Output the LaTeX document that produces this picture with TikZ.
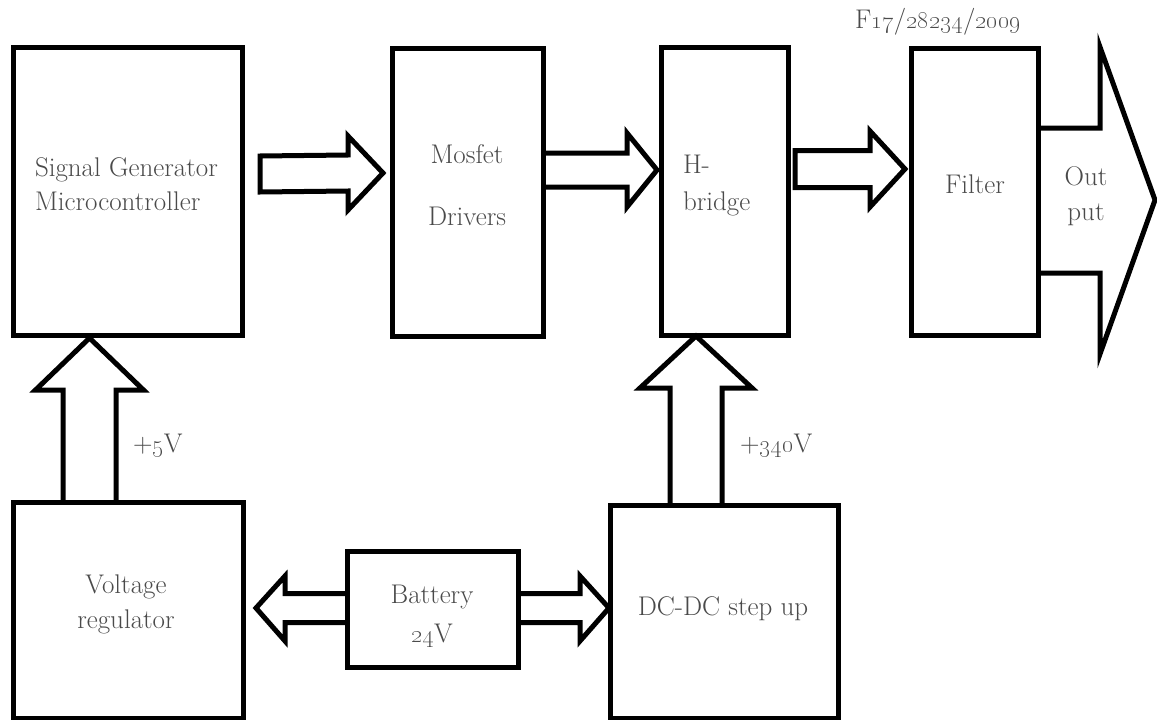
\documentclass[tikz,border=0pt]{standalone}
\usetikzlibrary{calc}
\definecolor{txtgray}{HTML}{4A4A4A}
\begin{document}
\begin{tikzpicture}[x=1pt,y=-1pt,
  box/.style={draw, line width=5pt, inner sep=0pt, outer sep=0pt, line join=miter},
  blk/.style={draw, line width=5pt, fill=white, line join=miter, miter limit=10},
  lbl/.style={text=txtgray, font=\fontsize{27}{32}\selectfont, inner sep=0pt, outer sep=0pt},
  lc/.style={lbl, anchor=base},
  ll/.style={lbl, anchor=base west}]
\useasboundingbox (0,0) rectangle (1157,720);

% ---- arrow end points ----
\coordinate (a1t) at (260,174);  \coordinate (a1p) at (383,173);
\coordinate (a2t) at (543,170);  \coordinate (a2p) at (657,170);
\coordinate (a3t) at (795,169);  \coordinate (a3p) at (905,169);
\coordinate (aot) at (1038,200); \coordinate (aop) at (1155,200);
\coordinate (u1t) at (89.5,502); \coordinate (u1p) at (89.5,338);
\coordinate (u2t) at (696,505);  \coordinate (u2p) at (696,336);
\coordinate (blt) at (347,608);  \coordinate (blp) at (256,608);
\coordinate (brt) at (518,608);  \coordinate (brp) at (609,608);

% ---- block arrows ----
% SG -> Mosfet (closed)
\draw[blk] ($(a1t)+(0,-18)$) -- ($(a1p)+(-35,-18)$) -- ($(a1p)+(-35,-37)$) -- (a1p)
  -- ($(a1p)+(-35,37)$) -- ($(a1p)+(-35,18)$) -- ($(a1t)+(0,18)$) -- cycle;
% Mosfet -> H-bridge (open at box)
\draw[blk] ($(a2t)+(0,-17)$) -- ($(a2p)+(-30,-17)$) -- ($(a2p)+(-30,-37)$) -- (a2p)
  -- ($(a2p)+(-30,37)$) -- ($(a2p)+(-30,17)$) -- ($(a2t)+(0,17)$);
% H-bridge -> Filter (closed)
\draw[blk] ($(a3t)+(0,-18.5)$) -- ($(a3p)+(-35,-18.5)$) -- ($(a3p)+(-35,-38)$) -- (a3p)
  -- ($(a3p)+(-35,38)$) -- ($(a3p)+(-35,18.5)$) -- ($(a3t)+(0,18.5)$) -- cycle;
% Output
\draw[blk] ($(aot)+(0,-72)$) -- ($(aop)+(-55,-72)$) -- ($(aop)+(-55,-153)$) -- (aop)
  -- ($(aop)+(-55,154)$) -- ($(aop)+(-55,73)$) -- ($(aot)+(0,73)$);
% VR -> SG (+5V)
\draw[blk] ($(u1t)+(-26.5,0)$) -- ($(u1p)+(-26.5,52)$) -- ($(u1p)+(-54,52)$) -- (u1p)
  -- ($(u1p)+(54,52)$) -- ($(u1p)+(26.5,52)$) -- ($(u1t)+(26.5,0)$);
% DC-DC -> H-bridge (+340V)
\draw[blk] ($(u2t)+(-26,0)$) -- ($(u2p)+(-26,52)$) -- ($(u2p)+(-56,52)$) -- (u2p)
  -- ($(u2p)+(56,52)$) -- ($(u2p)+(26,52)$) -- ($(u2t)+(26,0)$);
% Battery -> VR
\draw[blk] ($(blt)+(0,-14.5)$) -- ($(blp)+(29,-14.5)$) -- ($(blp)+(29,-32)$) -- (blp)
  -- ($(blp)+(29,33)$) -- ($(blp)+(29,14.5)$) -- ($(blt)+(0,14.5)$);
% Battery -> DC-DC
\draw[blk] ($(brt)+(0,-14.5)$) -- ($(brp)+(-29,-14.5)$) -- ($(brp)+(-29,-32)$) -- (brp)
  -- ($(brp)+(-29,33)$) -- ($(brp)+(-29,14.5)$) -- ($(brt)+(0,14.5)$);

% ---- boxes ----
\node[box, minimum width=229pt, minimum height=288pt] (sg)  at (127.5,191) {};
\node[box, minimum width=151pt, minimum height=288pt] (mos) at (467.5,192) {};
\node[box, minimum width=127pt, minimum height=288pt] (hb)  at (724.5,191) {};
\node[box, minimum width=127pt, minimum height=287pt] (fil) at (974.5,191.5) {};
\node[box, minimum width=230pt, minimum height=216pt] (vr)  at (128,610) {};
\node[box, minimum width=171pt, minimum height=116pt] (bat) at (432.5,609) {};
\node[box, minimum width=228pt, minimum height=213pt] (dc)  at (724,611.5) {};

% ---- labels ----
\node[ll] (sg1) at (35,176) {Signal Generator};
\node[ll] (sg2) at (35,210) {Microcontroller};
\node[lc] (mo1) at (467,163) {Mosfet};
\node[lc] (mo2) at (467,225) {Drivers};
\node[ll] (hb1) at (683,173) {H-};
\node[ll] (hb2) at (683,210) {bridge};
\node[lc] (fi1) at (975,193) {Filter};
\node[lc] (ou1) at (1086,185) {Out};
\node[lc] (ou2) at (1086,220) {put};
\node[lc] (ref) at (938,28) {F\oldstylenums{17}/\oldstylenums{28234}/\oldstylenums{2009}};
\node[ll] (v5)  at (133,452) {+\oldstylenums{5}V};
\node[ll] (v340) at (740,452) {+\oldstylenums{340}V};
\node[lc] (vr1) at (126,593) {Voltage};
\node[lc] (vr2) at (126,628) {regulator};
\node[lc] (ba1) at (432,603) {Battery};
\node[lc] (ba2) at (432,642) {\oldstylenums{24}V};
\node[lc] (dc1) at (723,615) {DC-DC step up};
\end{tikzpicture}
\end{document}
